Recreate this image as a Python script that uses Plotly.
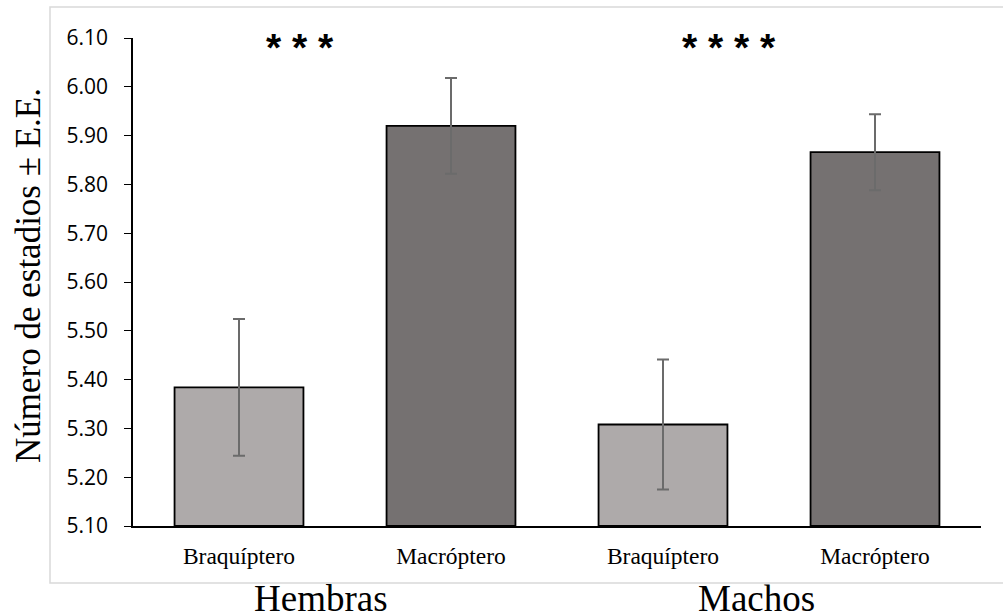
import plotly.graph_objects as go

categories = ["Hembras-Braquíptero", "Hembras-Macróptero", "Machos-Braquíptero", "Machos-Macróptero"]
tick_labels = ["Braquíptero", "Macróptero", "Braquíptero", "Macróptero"]
means = [5.384, 5.920, 5.308, 5.866]
errors = [0.140, 0.098, 0.133, 0.078]
bar_colors = ["#AEAAAA", "#757171", "#AEAAAA", "#757171"]
groups = ["Hembras", "Machos"]
group_pos = [0.387, 2.44]
signif = ["* * *", "* * * *"]
signif_pos = [0.288, 2.31]
y_ticks = [5.10 + 0.10 * i for i in range(11)]

W, H = 1003, 616
L, R, T, B = 133, 22, 38, 90
pw = W - L - R
ph = H - T - B

def px_to_paper_x(px):
    return (px - L) / pw

def px_to_paper_y(py):
    return (H - B - py) / ph

fig = go.Figure()
fig.add_trace(go.Bar(
    x=categories, y=[m - 5.10 for m in means], base=5.10,
    marker=dict(color=bar_colors, line=dict(color="#000000", width=1.8)),
    error_y=dict(type="data", array=errors, visible=True, color="#6b6b6b", thickness=2, width=6),
    showlegend=False, hoverinfo="skip",
))

annotations = []
for g, p in zip(groups, group_pos):
    annotations.append(dict(x=p, y=px_to_paper_y(598), xref="x", yref="paper", text=g,
                            showarrow=False, font=dict(family="Liberation Serif", size=37, color="#000"),
                            xanchor="center", yanchor="middle"))
for s, p in zip(signif, signif_pos):
    annotations.append(dict(x=p, y=px_to_paper_y(48), xref="x", yref="paper", text="<b>" + s + "</b>",
                            showarrow=False, font=dict(family="Liberation Sans", size=39, color="#000"),
                            xanchor="center", yanchor="middle"))
annotations.append(dict(x=px_to_paper_x(28), y=px_to_paper_y(276), xref="paper", yref="paper",
                        text="Número de estadios ± E.E.", textangle=-90, showarrow=False,
                        font=dict(family="Liberation Serif", size=35, color="#000"),
                        xanchor="center", yanchor="middle"))

fig.update_layout(
    width=W, height=H,
    margin=dict(l=L, r=R, t=T, b=B),
    paper_bgcolor="white", plot_bgcolor="white",
    bargap=0.392,
    annotations=annotations,
    shapes=[dict(type="rect", xref="paper", yref="paper",
                 x0=px_to_paper_x(50), x1=px_to_paper_x(1010),
                 y0=px_to_paper_y(583), y1=px_to_paper_y(7),
                 line=dict(color="#d9d9d9", width=1.5), layer="below")],
    xaxis=dict(tickmode="array", tickvals=categories, ticktext=tick_labels,
               showline=True, linecolor="#000", linewidth=1.5, ticks="",
               showgrid=False, zeroline=False, ticklabelstandoff=8,
               tickfont=dict(family="Liberation Serif", size=23.5, color="#000")),
    yaxis=dict(range=[5.10, 6.10], tickmode="array", tickvals=y_ticks,
               ticktext=[f"{v:.2f}" for v in y_ticks],
               showline=True, linecolor="#000", linewidth=1.5,
               ticks="outside", ticklen=7, tickcolor="#000", tickwidth=1,
               showgrid=False, zeroline=False, ticklabelstandoff=12,
               tickfont=dict(family="Open Sans", size=21, color="#000")),
)

fig.write_html("out.html", config={"displayModeBar": False},
               post_script="document.body.style.margin='0';document.body.style.padding='0';")
